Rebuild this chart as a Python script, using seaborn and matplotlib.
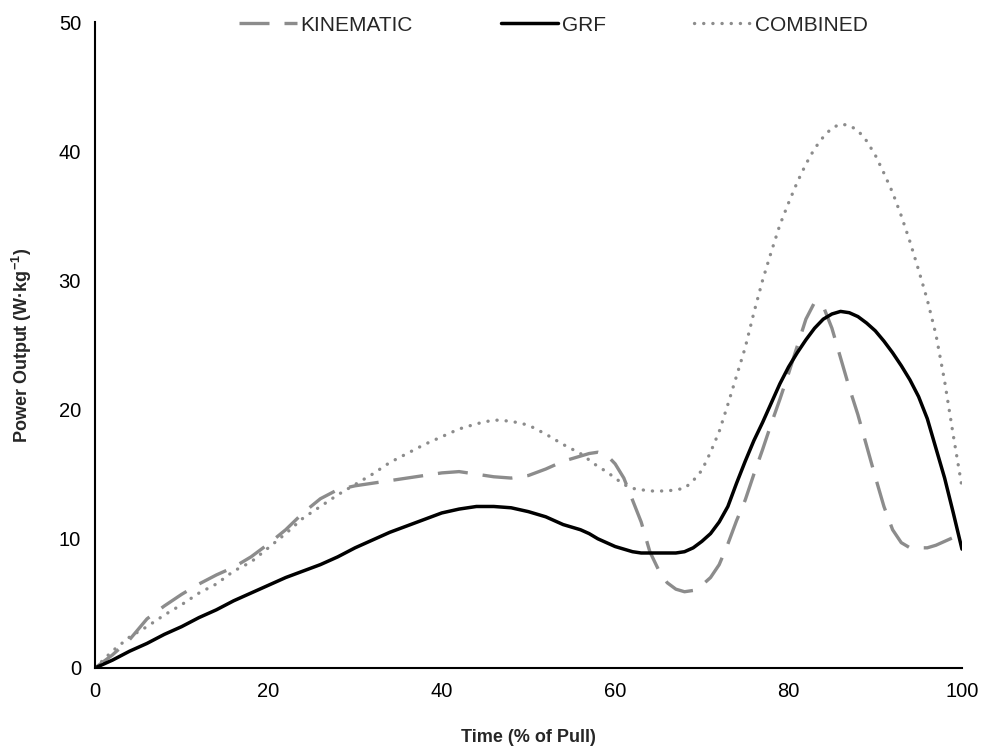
import pandas as pd
import matplotlib.pyplot as plt
import seaborn as sns

# time (% of pull): every 2% up to 56, then every 1%
time_pct = list(range(0, 57, 2)) + list(range(57, 101))

grf = [0, 0.6, 1.3, 1.9, 2.6, 3.2, 3.9, 4.5, 5.2, 5.8, 6.4, 7.0, 7.5, 8.0, 8.6,
       9.3, 9.9, 10.5, 11.0, 11.5, 12.0, 12.3, 12.5, 12.5, 12.4, 12.1, 11.7, 11.1, 10.7,
       10.4, 10.0, 9.7, 9.4, 9.2, 9.0, 8.9, 8.9, 8.9, 8.9, 8.9, 9.0, 9.3, 9.8,
       10.4, 11.3, 12.5, 14.3, 16.0, 17.6, 19.0, 20.5, 22.0, 23.3, 24.4, 25.4, 26.3,
       27.0, 27.4, 27.6, 27.5, 27.2, 26.7, 26.1, 25.3, 24.4, 23.4, 22.3, 21.0, 19.3,
       17.0, 14.7, 12.0, 9.2]

kinematic = [0, 1.0, 2.2, 3.8, 4.8, 5.7, 6.5, 7.2, 7.8, 8.6, 9.6, 10.7, 12.0, 13.1, 13.8,
             14.1, 14.3, 14.5, 14.7, 14.9, 15.1, 15.2, 15.0, 14.8, 14.7, 14.9, 15.4, 16.0, 16.4,
             16.6, 16.7, 16.5, 15.8, 14.7, 13.0, 11.3, 9.0, 7.6, 6.6, 6.1, 5.9, 6.0, 6.4,
             7.0, 8.0, 9.6, 11.4, 13.0, 15.0, 16.9, 18.9, 20.8, 22.8, 24.9, 27.0, 28.3,
             28.0, 26.3, 24.0, 21.7, 19.6, 17.2, 14.8, 12.5, 10.7, 9.7, 9.3, 9.3, 9.3,
             9.5, 9.8, 10.1, 10.4]

combined = [0, 1.3, 2.4, 3.2, 4.1, 4.9, 5.8, 6.5, 7.5, 8.2, 9.3, 10.4, 11.6, 12.5, 13.4,
            14.2, 15.0, 15.9, 16.6, 17.3, 17.9, 18.5, 18.9, 19.2, 19.1, 18.8, 18.1, 17.3, 16.6,
            16.1, 15.6, 15.2, 14.7, 14.2, 13.9, 13.8, 13.7, 13.7, 13.7, 13.8, 13.9, 14.5, 15.3,
            16.7, 18.3, 20.4, 22.6, 24.8, 27.5, 30.0, 32.2, 34.3, 36.0, 37.6, 39.0, 40.2,
            41.1, 41.8, 42.1, 42.0, 41.6, 40.8, 39.7, 38.3, 36.8, 35.0, 33.0, 30.8, 28.5,
            25.8, 22.2, 18.0, 14.0]

df = pd.DataFrame({'time': time_pct, 'KINEMATIC': kinematic, 'GRF': grf, 'COMBINED': combined})

sns.set_style('white')
plt.rcParams['font.family'] = ['Liberation Sans', 'DejaVu Sans']
plt.rcParams['mathtext.fontset'] = 'custom'
plt.rcParams['mathtext.rm'] = 'Liberation Sans'
plt.rcParams['mathtext.bf'] = 'Liberation Sans:bold'

fig = plt.figure(figsize=(9.83, 7.47), dpi=100)
ax = fig.add_axes([0.0966, 0.1058, 0.882, 0.8647])

sns.lineplot(data=df, x='time', y='KINEMATIC', ax=ax, color='#8c8c8c', linewidth=2.4,
             linestyle=(0, (9, 4.5)), label='KINEMATIC')
sns.lineplot(data=df, x='time', y='GRF', ax=ax, color='black', linewidth=2.5, label='GRF')
sns.lineplot(data=df, x='time', y='COMBINED', ax=ax, color='#8c8c8c', linewidth=2.4,
             linestyle=(0, (0.05, 2.7)), dash_capstyle='round', label='COMBINED')

ax.set_xlim(0, 100)
ax.set_ylim(0, 50)
ax.set_xticks([0, 20, 40, 60, 80, 100])
ax.set_yticks([0, 10, 20, 30, 40, 50])
ax.tick_params(direction='in', length=6, width=1.2, labelsize=14.5, pad=10, colors='black')
for side in ['top', 'right']:
    ax.spines[side].set_visible(False)
for side in ['left', 'bottom']:
    ax.spines[side].set_color('black')
    ax.spines[side].set_linewidth(1.5)

ax.set_xlabel('Time (% of Pull)', fontsize=13, fontweight='bold', labelpad=20)
ax.set_ylabel(r'Power Output (W·kg$^{\mathbf{-1}}$)', fontsize=13, fontweight='bold', labelpad=18)

ax.legend(loc='center', bbox_to_anchor=(0.529, 0.995), ncol=3, frameon=False, fontsize=15,
          handlelength=2.75, columnspacing=4.2, handletextpad=0.2)

plt.savefig('out.png', dpi=100)
